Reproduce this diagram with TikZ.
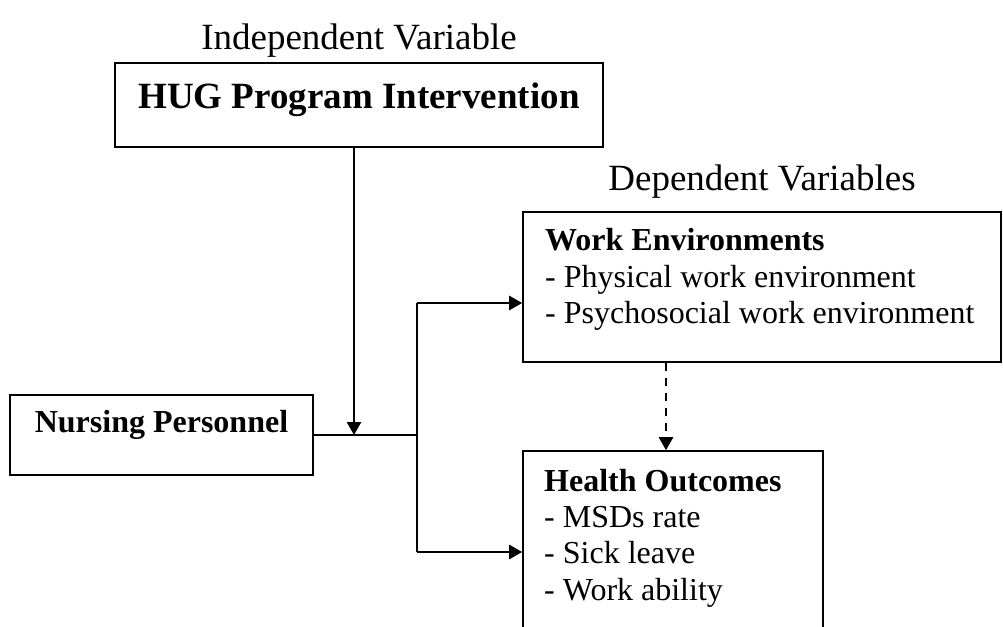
\documentclass[tikz,border=0pt]{standalone}
\usepackage{fontspec}
\setmainfont{Liberation Serif}
\usetikzlibrary{arrows.meta}
\begin{document}
\begin{tikzpicture}[x=1pt,y=-1pt,
  box/.style={draw, line width=1.6pt, inner sep=0pt, rectangle},
  conn/.style={line width=2.6pt},
  arr/.style={conn, -{Triangle[length=13pt,width=14pt]}},
  dasharr/.style={arr, dash pattern=on 8pt off 7pt},
  hdr/.style={font=\fontsize{37}{44}\selectfont, inner sep=0pt, anchor=base},
  hdrbold/.style={font=\fontsize{37}{44}\selectfont\bfseries, inner sep=0pt, anchor=base},
  lst/.style={font=\fontsize{32}{36}\selectfont, inner sep=0pt, anchor=base west},
  lstbold/.style={font=\fontsize{32}{36}\selectfont\bfseries, inner sep=0pt, anchor=base west},
]
\useasboundingbox (0,0) rectangle (1003,626);
\clip (0,0) rectangle (1003,626);

% boxes
\node[box, minimum width=488pt, minimum height=84pt] (hug) at (359,105) {};
\node[box, minimum width=303pt, minimum height=80pt] (np) at (161.5,435) {};
\node[box, minimum width=478pt, minimum height=150pt] (we) at (762,287) {};
\node[box, minimum width=300pt, minimum height=249pt] (ho) at (673,575.5) {};

% texts
\node[hdr] (iv) at (359,49) {Independent Variable};
\node[hdrbold] (hugt) at (359,108) {HUG Program Intervention};
\node[hdr] (dv) at (762,190) {Dependent Variables};
\node[lstbold, anchor=base] (npt) at (161.5,432) {Nursing Personnel};

\node[lstbold] (we1) at (545,250) {Work Environments};
\node[lst] (we2) at (545,287) {- Physical work environment};
\node[lst] (we3) at (545,323) {- Psychosocial work environment};

\node[lstbold] (ho1) at (544,491) {Health Outcomes};
\node[lst] (ho2) at (544,527) {- MSDs rate};
\node[lst] (ho3) at (544,563) {- Sick leave};
\node[lst] (ho4) at (544,600) {- Work ability};

% connector points
\coordinate (jn) at (354,435);
\coordinate (split) at (417,435);
\coordinate (tp) at (417,303);
\coordinate (bt) at (417,552);
\coordinate (dx) at (666,0);

% connectors
\draw[arr] (hug.south -| jn) -- (jn);
\draw[conn] (np.east) -- (split);
\draw[conn] (tp) -- (bt);
\draw[arr] (tp) -- (tp -| we.west);
\draw[arr] (bt) -- (bt -| ho.west);
\draw[dasharr] (we.south -| dx) -- (ho.north -| dx);
\end{tikzpicture}
\end{document}
